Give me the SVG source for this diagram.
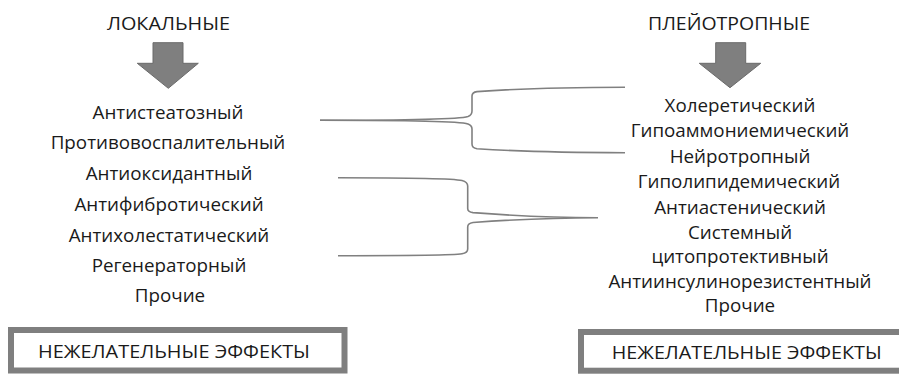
<svg xmlns="http://www.w3.org/2000/svg" width="899" height="374" viewBox="0 0 899 374">
<style>
text{font-family:"Open Sans","Noto Sans","DejaVu Sans",sans-serif;fill:#1a1a1a;text-anchor:middle}
.t{font-size:18.8px}
.h{font-size:18px}
.arrow{fill:#7f7f7f;stroke:#6a6a6a;stroke-width:1}
.con{fill:none;stroke:#808080;stroke-width:1.6}
.box{fill:#fff;stroke:#7f7f7f;stroke-width:6}
</style>
<rect width="899" height="374" fill="#fff"/>
<g id="local">
<text class="h" x="168.5" y="30" textLength="123" lengthAdjust="spacingAndGlyphs">ЛОКАЛЬНЫЕ</text>
<polygon class="arrow" points="153,42.7 183,42.7 183,63.3 198.3,63.3 168.3,88.3 137.3,63.3 153,63.3"/>
<text class="t" x="168" y="119">Антистеатозный</text>
<text class="t" x="168" y="148.5">Противовоспалительный</text>
<text class="t" x="169" y="179.5">Антиоксидантный</text>
<text class="t" x="169" y="211">Антифибротический</text>
<text class="t" x="169" y="241.5">Антихолестатический</text>
<text class="t" x="169" y="271.5">Регенераторный</text>
<text class="t" x="170" y="301.5">Прочие</text>
</g>
<g id="pleiotropic">
<text class="h" x="729" y="30" textLength="162" lengthAdjust="spacingAndGlyphs">ПЛЕЙОТРОПНЫЕ</text>
<polygon class="arrow" points="715.7,42.7 745.7,42.7 745.7,63.3 760.7,63.3 730,87.7 699.3,63.3 715.7,63.3"/>
<text class="t" x="740" y="111.5">Холеретический</text>
<text class="t" x="740" y="137">Гипоаммониемический</text>
<text class="t" x="740" y="162.5">Нейротропный</text>
<text class="t" x="739" y="188">Гиполипидемический</text>
<text class="t" x="740" y="213.5">Антиастенический</text>
<text class="t" x="740" y="238.5">Системный</text>
<text class="t" x="740" y="263">цитопротективный</text>
<text class="t" x="740" y="287.5">Антиинсулинорезистентный</text>
<text class="t" x="740" y="312">Прочие</text>
</g>
<g id="connectors">
<path class="con" d="M320,120.3 C420,120.3 462,118.5 468,116.5 Q472,115 472,111 L472,96 Q472,92.2 477,91.6 C520,88.5 590,87.3 625,87.2"/>
<path class="con" d="M320,120.3 C420,120.3 462,122 468,124 Q472,125.5 472,129 L472,144 Q472,148 477,148.7 C520,151.5 590,152.6 625,152.7"/>
<path class="con" d="M338,177.7 C400,177.7 455,178.8 462,180.5 Q467.7,182 467.7,186 L467.7,208.5 Q467.7,212 473,212.6 C520,216.3 570,217.7 598,217.7 C570,217.7 520,219.1 473,222.5 Q467.7,223.2 467.7,227 L467.7,249 Q467.7,252.8 462,253.8 C455,255 400,255.7 338,255.7"/>
</g>
<g id="undesired-left">
<rect class="box" x="11" y="330" width="333.5" height="40.5"/>
<text class="h" x="174" y="357.5" textLength="272" lengthAdjust="spacingAndGlyphs">НЕЖЕЛАТЕЛЬНЫЕ ЭФФЕКТЫ</text>
</g>
<g id="undesired-right">
<rect class="box" x="581" y="332" width="340" height="38.7"/>
<text class="h" x="746.7" y="359" textLength="270" lengthAdjust="spacingAndGlyphs">НЕЖЕЛАТЕЛЬНЫЕ ЭФФЕКТЫ</text>
</g>
</svg>
